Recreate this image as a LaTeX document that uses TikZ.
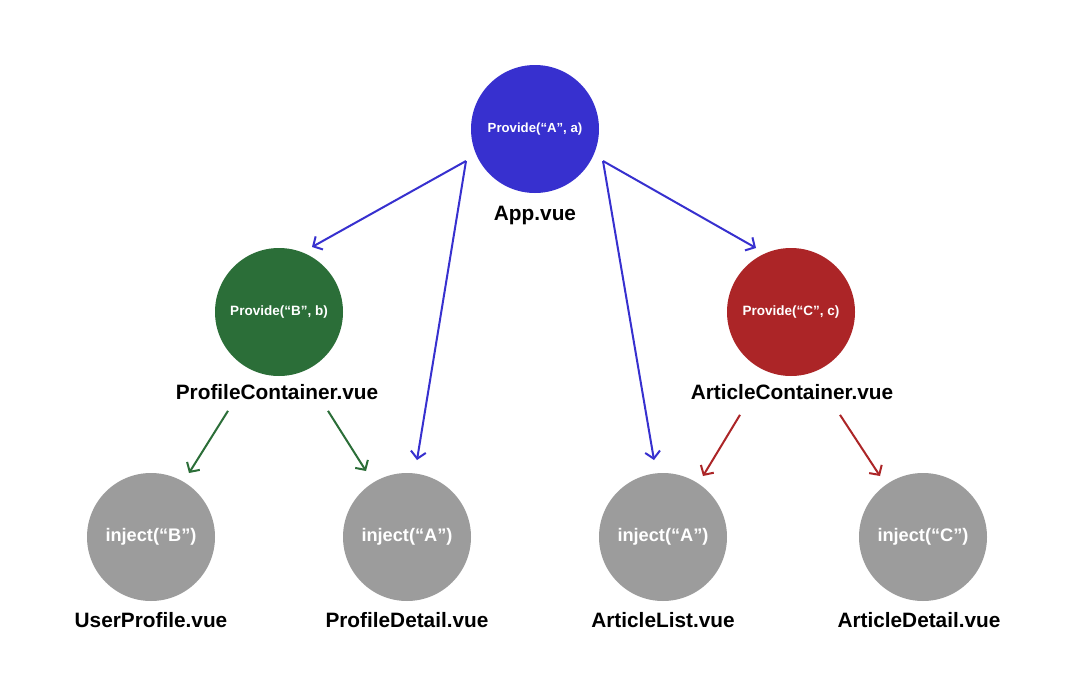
\documentclass[tikz,border=0pt]{standalone}
\usepackage{fontspec}
\setmainfont{Liberation Sans}
\usetikzlibrary{arrows.meta,calc}
\definecolor{cblue}{HTML}{3730CF}
\definecolor{cgreen}{HTML}{2B6E38}
\definecolor{cred}{HTML}{AC2527}
\definecolor{cgray}{HTML}{9C9C9C}
\begin{document}
\begin{tikzpicture}[x=1pt,y=-1pt,
  circ/.style={circle,minimum size=128pt,inner sep=0pt,text=white},
  lbl/.style={font=\bfseries\fontsize{20.8}{24}\selectfont,text=black,inner sep=0pt},
  arr/.style={line width=2pt,-{Straight Barb[length=7pt,width=15pt,line width=2pt]}},
  ]
\useasboundingbox[fill=white] (0,0) rectangle (1080,699);
% circles
\node[circ,fill=cblue,font=\bfseries\fontsize{13.2}{15}\selectfont] (app) at (535,129) {Provide(“A”, a)};
\node[circ,fill=cgreen,font=\bfseries\fontsize{13.5}{15}\selectfont] (pc) at (279,312) {Provide(“B”, b)};
\node[circ,fill=cred,font=\bfseries\fontsize{13.5}{15}\selectfont] (ac) at (791,312) {Provide(“C”, c)};
\node[circ,fill=cgray,font=\bfseries\fontsize{18.2}{20}\selectfont] (up) at (151,537) {inject(“B”)};
\node[circ,fill=cgray,font=\bfseries\fontsize{18.2}{20}\selectfont] (pd) at (407,537) {inject(“A”)};
\node[circ,fill=cgray,font=\bfseries\fontsize{18.2}{20}\selectfont] (al) at (663,537) {inject(“A”)};
\node[circ,fill=cgray,font=\bfseries\fontsize{18.2}{20}\selectfont] (ad) at (923,537) {inject(“C”)};
% labels
\node[lbl] (appL) at (535,216) {App.vue};
\node[lbl] (pcL) at (277,392) {ProfileContainer.vue};
\node[lbl] (acL) at (792,392) {ArticleContainer.vue};
\node[lbl] (upL) at (151,620) {UserProfile.vue};
\node[lbl] (pdL) at (407,620) {ProfileDetail.vue};
\node[lbl] (alL) at (663,620) {ArticleList.vue};
\node[lbl] (adL) at (919,620) {ArticleDetail.vue};
% arrow anchor points
\coordinate (appSW) at ($(app.center)+(-69,32)$);
\coordinate (appSE) at ($(app.center)+(68,32)$);
\coordinate (pcIn) at ($(pc.center)+(33,-65)$);
\coordinate (acIn) at ($(ac.center)+(-35,-64)$);
\coordinate (pdTopA) at ($(pd.center)+(10,-77)$);
\coordinate (alTopA) at ($(al.center)+(-9,-77)$);
\coordinate (pcSW) at ($(pcL.south)+(-49,11)$);
\coordinate (pcSE) at ($(pcL.south)+(51,11)$);
\coordinate (acSW) at ($(acL.south)+(-52,15)$);
\coordinate (acSE) at ($(acL.south)+(48,15)$);
\coordinate (upIn) at ($(up.center)+(38,-64)$);
\coordinate (pdIn) at ($(pd.center)+(-41,-66)$);
\coordinate (alIn) at ($(al.center)+(40,-61)$);
\coordinate (adIn) at ($(ad.center)+(-43,-61)$);
% arrows
\draw[arr,cblue] (appSW) -- (pcIn);
\draw[arr,cblue] (appSW) -- (pdTopA);
\draw[arr,cblue] (appSE) -- (alTopA);
\draw[arr,cblue] (appSE) -- (acIn);
\draw[arr,cgreen] (pcSW) -- (upIn);
\draw[arr,cgreen] (pcSE) -- (pdIn);
\draw[arr,cred] (acSW) -- (alIn);
\draw[arr,cred] (acSE) -- (adIn);
\end{tikzpicture}
\end{document}
